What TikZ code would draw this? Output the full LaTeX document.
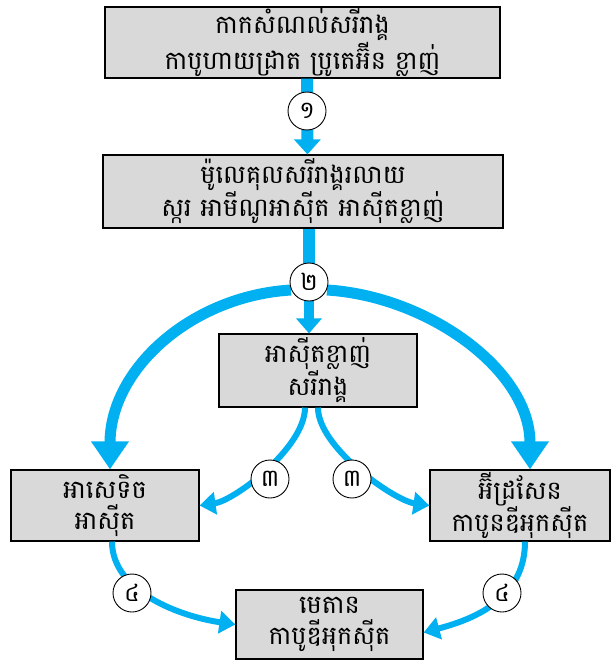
\documentclass[tikz,border=0pt]{standalone}
\usepackage{fontspec}
\newfontfamily\khmer[Script=Khmer]{Battambang}
\usetikzlibrary{arrows.meta}
\definecolor{flow}{RGB}{0,176,240}
\definecolor{boxfill}{RGB}{217,217,217}
\tikzset{
  box/.style={draw=black, line width=1.2pt, fill=boxfill, align=center, inner sep=0pt,
    font=\khmer\fontsize{25.5}{31}\selectfont},
  numc/.style={draw=black, line width=0.9pt, fill=white, circle, minimum size=38pt, inner sep=0pt,
    font=\khmer\fontsize{24}{24}\selectfont},
  thick arrow/.style={draw=flow, line width=12pt, -{Triangle[width=26pt,length=15pt]}},
  mid arrow/.style={draw=flow, line width=10pt, -{Triangle[width=25pt,length=15pt]}},
  big arrow/.style={draw=flow, line width=11pt, -{Triangle[width=36pt,length=28pt]}},
  small arrow/.style={draw=flow, line width=6pt, -{Triangle[width=22pt,length=16pt]}},
}
\begin{document}
\begin{tikzpicture}[x=1pt,y=-1pt]
\useasboundingbox (0,0) rectangle (613,661);
% boxes
\node[box, minimum width=395pt, minimum height=71pt] (b1) at (302.5,42.5) {កាកសំណល់សរីរាង្គ\\កាបូហាយដ្រាត ប្រូតេអ៊ីន ខ្លាញ់};
\node[box, minimum width=400pt, minimum height=73pt] (b2) at (303,191.5) {ម៉ូលេគុលសរីរាង្គរលាយ\\ស្ករ អាមីណូអាស៊ីត អាស៊ីតខ្លាញ់};
\node[box, minimum width=198pt, minimum height=73pt] (b3) at (318,370.5) {អាស៊ីតខ្លាញ់\\សរីរាង្គ};
\node[box, minimum width=188pt, minimum height=71pt] (b4) at (105,505.5) {អាសេទិច\\អាស៊ីត};
\node[box, minimum width=180pt, minimum height=71pt] (b5) at (520,505.5) {អ៊ីដ្រសែន\\កាបូនឌីអុកស៊ីត};
\node[box, minimum width=187pt, minimum height=69pt] (b6) at (329.5,624.5) {មេតាន\\កាបូឌីអុកស៊ីត};
% circle positions
\coordinate (p1) at (307,111);
\coordinate (p2) at (309,282);
% connectors
\draw[thick arrow] ([xshift=4.5pt]b1.south) -- ([xshift=4.5pt]b2.north);
\draw[draw=flow, line width=12pt] ([xshift=6pt]b2.south) -- (p2);
\draw[mid arrow] (p2) -- ([xshift=-9pt]b3.north);
\draw[big arrow] ([shift={(-18pt,-8pt)}]p2) .. controls +(-100,6) and +(0,-100) .. ([xshift=5pt]b4.north);
\draw[big arrow] ([shift={(18pt,-8pt)}]p2) .. controls +(100,6) and +(0,-100) .. ([xshift=10pt]b5.north);
\draw[small arrow] ([xshift=-13pt]b3.south) .. controls +(0,40) and +(35,-5) .. (b4.east);
\draw[small arrow] ([xshift=0pt]b3.south) .. controls +(0,40) and +(-35,-5) .. (b5.west);
\draw[small arrow] ([xshift=7pt]b4.south) .. controls +(0,50) and +(-55,-8) .. (b6.west);
\draw[small arrow] ([xshift=5pt]b5.south) .. controls +(0,60) and +(45,-12) .. ([yshift=-8pt]b6.east);
% number circles
\node[numc] (c1) at (p1) {១};
\node[numc] (c2) at (p2) {២};
\node[numc] (c3a) at (270,479) {៣};
\node[numc] (c3b) at (352,479) {៣};
\node[numc] (c4a) at (132,593) {៤};
\node[numc] (c4b) at (502,593) {៤};
\end{tikzpicture}
\end{document}
